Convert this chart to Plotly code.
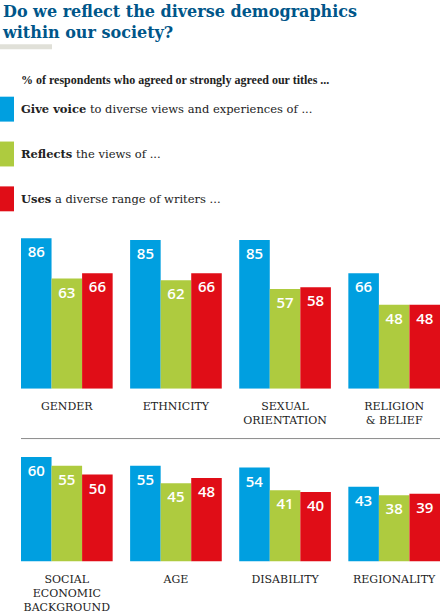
import plotly.graph_objects as go

# categories for the two rows of groups
row1_cats = ["GENDER", "ETHNICITY", "SEXUAL<br>ORIENTATION", "RELIGION<br>& BELIEF"]
row2_cats = ["SOCIAL<br>ECONOMIC<br>BACKGROUND", "AGE", "DISABILITY", "REGIONALITY"]

# % agreeing, per series
give_voice_1 = [86, 85, 85, 66]
reflects_1 = [63, 62, 57, 48]
uses_1 = [66, 66, 58, 48]

give_voice_2 = [60, 55, 54, 43]
reflects_2 = [55, 45, 41, 38]
uses_2 = [50, 48, 40, 39]

series_bold = ["Give voice", "Reflects", "Uses"]
series_rest = ["to diverse views and experiences of ...", "the views of ...", "a diverse range of writers ..."]
colors = ["#009fe0", "#aecb3f", "#e00d17"]

W, H = 440, 614


def py(px):
    # pixel from top -> paper fraction
    return 1 - px / H


fig = go.Figure()

rows = [
    (row1_cats, [give_voice_1, reflects_1, uses_1], "x", "y"),
    (row2_cats, [give_voice_2, reflects_2, uses_2], "x2", "y2"),
]
for cats, vals, xa, ya in rows:
    for i, v in enumerate(vals):
        fig.add_bar(
            x=cats, y=v, xaxis=xa, yaxis=ya, name=series_bold[i],
            marker=dict(color=colors[i], line=dict(width=0)),
            text=v, textposition="inside", insidetextanchor="end", textangle=0,
            textfont=dict(family="Open Sans", size=15, color="white", weight=600),
            constraintext="none", showlegend=False, hoverinfo="skip",
        )

axis_x = dict(
    type="category", range=[-0.42, 3.42], domain=[21 / W, 1], showgrid=False,
    zeroline=False, showline=False, ticks="outside", ticklen=7, tickcolor="rgba(0,0,0,0)",
    tickfont=dict(family="DejaVu Serif", size=11, color="#222"), fixedrange=True,
)
axis_y = dict(visible=False, showgrid=False, zeroline=False, fixedrange=True)

shapes = [
    dict(type="rect", xref="paper", yref="paper", x0=0, x1=52 / W, y0=py(49.3), y1=py(44.3),
         fillcolor="#e0e0d8", line=dict(width=0)),
    dict(type="line", xref="paper", yref="paper", x0=21 / W, x1=1, y0=py(440), y1=py(440),
         line=dict(color="#8a8a8a", width=1)),
]

annotations = [
    dict(text="Do we reflect the diverse demographics<br>within our society?",
         xref="paper", yref="paper", x=0, y=1, xanchor="left", yanchor="top", align="left",
         showarrow=False, font=dict(family="DejaVu Serif", size=16, color="#005689", weight="bold")),
    dict(text="<b>% of respondents who agreed or strongly agreed our titles ...</b>",
         xref="paper", yref="paper", x=19 / W, y=py(80), xanchor="left", yanchor="middle",
         showarrow=False, font=dict(family="Liberation Serif", size=12, color="#222")),
]

for i in range(3):
    top = 97 + 45 * i
    shapes.append(dict(type="rect", xref="paper", yref="paper", x0=0, x1=14 / W,
                       y0=py(top + 25), y1=py(top), fillcolor=colors[i], line=dict(width=0)))
    annotations.append(dict(
        text="<b>" + series_bold[i] + "</b> " + series_rest[i],
        xref="paper", yref="paper", x=19 / W, y=py(top + 12.5), xanchor="left", yanchor="middle",
        showarrow=False, font=dict(family="DejaVu Serif", size=11.5, color="#222"),
    ))

fig.update_layout(
    width=W, height=H, margin=dict(l=0, r=0, t=0, b=0),
    paper_bgcolor="white", plot_bgcolor="white",
    barmode="group", bargap=0.16, bargroupgap=0,
    xaxis=dict(axis_x, anchor="y"),
    yaxis=dict(axis_y, range=[0, 90], domain=[py(390), py(390 - 90 * 1.755)], anchor="x"),
    xaxis2=dict(axis_x, anchor="y2"),
    yaxis2=dict(axis_y, range=[0, 70], domain=[py(563.3), py(563.3 - 70 * 1.745)], anchor="x2"),
    shapes=shapes, annotations=annotations,
)

fig.write_html("out.html", config={"displayModeBar": False},
               post_script="document.body.style.margin='0';")
